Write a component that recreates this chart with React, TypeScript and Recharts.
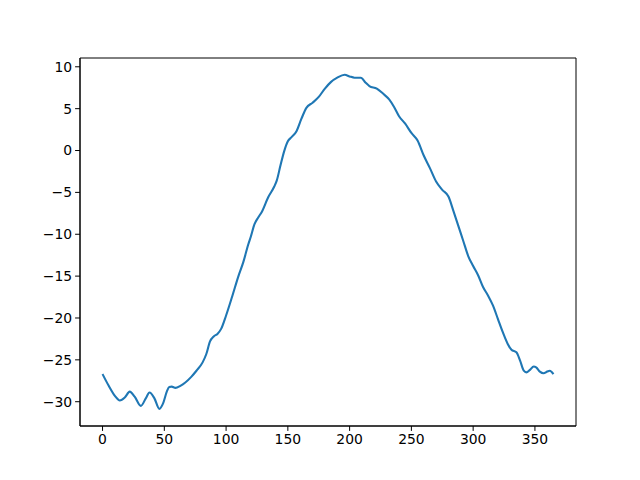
import React from 'react';
import { LineChart, Line, XAxis, YAxis, ReferenceArea } from 'recharts';

const days = [0,5,10,14,18,22,26,31,35,38,42,46,49,52,54,56,59,63,67,72,76,81,84,87,90,93,96,100,105,110,114,118,120,123,126,129,134,139,141,144,147,150,153,157,161,165,170,175,180,185,190,196,200,204,209,213,216,222,227,232,236,240,245,250,255,260,265,270,275,280,284,288,292,296,300,304,308,312,316,320,324,328,331,335,338,341,343,346,349,351,354,357,360,362,365];
const values = [-26.7,-28.1,-29.3,-29.85,-29.5,-28.8,-29.4,-30.5,-29.6,-28.9,-29.6,-30.85,-30.2,-28.8,-28.25,-28.2,-28.35,-28.1,-27.7,-27.0,-26.3,-25.3,-24.3,-22.8,-22.2,-21.9,-21.3,-19.7,-17.4,-15.0,-13.3,-11.2,-10.3,-8.8,-8.0,-7.3,-5.6,-4.3,-3.6,-1.8,-0.1,1.1,1.6,2.3,3.8,5.1,5.7,6.4,7.4,8.2,8.7,9.05,8.85,8.7,8.7,8.1,7.7,7.4,6.8,6.1,5.2,4.1,3.2,2.1,1.2,-0.6,-2.1,-3.7,-4.7,-5.5,-7.2,-9.0,-10.8,-12.6,-13.8,-14.9,-16.3,-17.3,-18.5,-20.1,-21.7,-23.1,-23.8,-24.1,-25.1,-26.3,-26.5,-26.2,-25.8,-25.9,-26.4,-26.6,-26.4,-26.3,-26.7];
const xTicks = [0,50,100,150,200,250,300,350];
const yTicks = [-30,-25,-20,-15,-10,-5,0,5,10];

const data = days.map((d, i) => ({ day: d, value: values[i] }));
const fmt = (v: number) => String(v).replace('-', '\u2212');
const tickStyle = { fill: '#000', fontSize: 13.9, fontFamily: 'DejaVu Sans' };
const xDomain: [number, number] = [-18.25, 383.25];
const yDomain: [number, number] = [-32.9, 11.05];

export default function App() {
  return (
    <div style={{ position: 'absolute', left: 0, top: 0, background: '#fff' }}>
      <LineChart width={640} height={480} data={data} margin={{ top: 58, right: 64, bottom: 0, left: 0 }}>
        <XAxis dataKey="day" type="number" domain={xDomain} ticks={xTicks} allowDataOverflow
          height={54} tick={tickStyle} tickFormatter={fmt} tickSize={4.9} tickMargin={3}
          stroke="#000" tickLine={{ stroke: '#000' }} axisLine={{ stroke: '#000', strokeWidth: 1 }} />
        <YAxis type="number" domain={yDomain} ticks={yTicks} allowDataOverflow width={80}
          tick={tickStyle} tickFormatter={fmt} tickSize={4.9} tickMargin={3}
          stroke="#000" tickLine={{ stroke: '#000' }} axisLine={{ stroke: '#000', strokeWidth: 1 }} />
        <ReferenceArea x1={xDomain[0]} x2={xDomain[1]} y1={yDomain[0]} y2={yDomain[1]}
          fill="none" fillOpacity={0} stroke="#000" strokeWidth={1} ifOverflow="visible" />
        <Line dataKey="value" type="monotone" stroke="#1f77b4" strokeWidth={2.1} dot={false} isAnimationActive={false} />
      </LineChart>
    </div>
  );
}
